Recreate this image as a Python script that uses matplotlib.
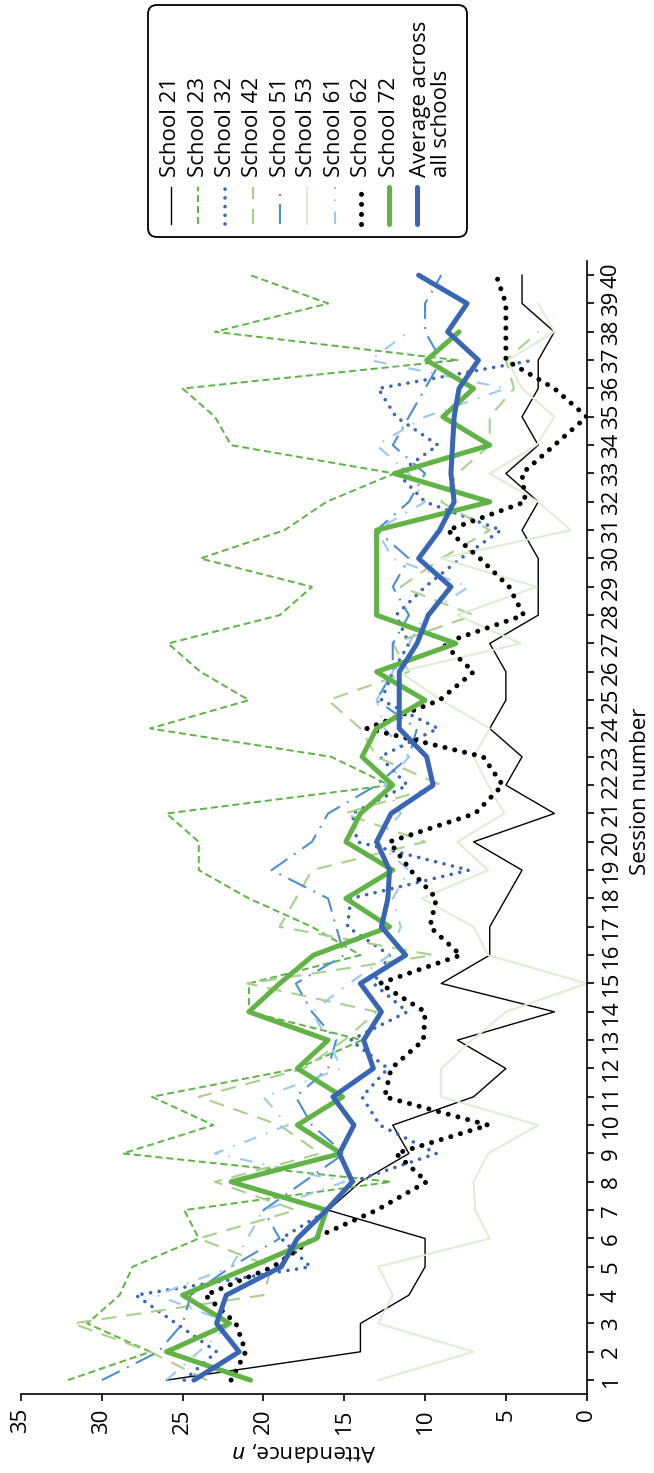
import numpy as np
import matplotlib
matplotlib.use("Agg")
import matplotlib.pyplot as plt
from matplotlib.patches import FancyBboxPatch
from matplotlib.lines import Line2D

plt.rcParams['font.family'] = ['Open Sans', 'DejaVu Sans']
plt.rcParams['mathtext.fontset'] = 'custom'
plt.rcParams['mathtext.it'] = 'Open Sans:italic'
plt.rcParams['mathtext.rm'] = 'Open Sans'

# data: attendance per session
sessions = list(range(1, 41))
school21 = [26,14,14,11,10,10,16,14,11,12,7,5,8,2,9,6,6,5,4,7,2,5,4,6,5,5,6,3,3,3,4,3,5,3,4,3,3,2,4,4]
school23 = [32.1,27,30.9,28.9,28.1,24,24.9,12.1,28.7,23.1,26.9,17.9,13.9,20.9,20.9,14,17,20.9,24,24,
            26,12.2,15.8,27,20.9,23.9,25.9,19,17,23.9,18.7,16.1,11.9,22,23,25,8,23,16,20.8]
school32 = [24.9,22.9,25.4,27.9,17.1,18.9,16,14.5,9.3,12.8,13.9,12.3,14.6,11.1,13.2,12.2,14.8,14.6,7.3,14.2,
            14.5,11.1,12.8,9.2,12.7,12,11,11.8,10,7.8,5.3,10,11.7,9.2,11.8,12.9,3.3]
school42 = [23.5,27,31.8,20,19.5,24,18,23,16.5,19,24,17.5,15,13,21,9.5,19,18,17,10,
            15,9,13,14,16,11,12,7,11.5,9,6,9,8,6,6,4.5,5,3]
school51 = [30,26.5,25,24.5,22,19,20,17.5,15,17,18,16,15.5,17,18,15,15.5,16,19.5,17,
            16,13,11,10.5,13,12,12,11,12,11,13,11,10,12,11,10,9,10,10,9]
school53 = [12.9,7,12.9,12,12.9,6,6.9,7,6.1,3,9,9,7.1,5,0,6.1,7,10.2,6.1,8,
            5.1,6.1,7,6,9,11.6,4.1,8,3.1,9,1,3,6,3.1,2,4,4.9,2,3]
school61 = [26,24,22,26.6,22,21,20,15,23,18.5,20,15.2,16,17,14.7,12.2,11.5,12,11,13,
            11.5,12.5,11,12.5,13,12,11,10,7.3,12,13,10,11,13,10,5,13.4,11]
school62 = [22,21.1,21.7,23.6,19.4,16.9,13,9.9,11.8,6.1,12.5,12.1,10.1,10,12.8,7.8,9.7,9.3,10.9,12.2,
            6.9,5.2,6.4,13.6,9.1,7,8.9,3.9,4.8,6.6,8.6,3.8,4,2,0,2,5,5,5,5.6]
school72 = [20.8,26,22.1,25,20.8,16.7,16.1,22,15.2,17.9,15.1,17.9,16,20.9,19,16.9,12.2,14.9,12,14.9,
            14,12,13.9,13,10,13,8.1,13,13,13,13,6,11.9,6,8.9,7,9.9,7.9]
average = [24.3,21.5,22.9,22.3,18.9,17.9,16.1,14.5,15.3,14.4,15.7,13.2,13.8,12.7,14.0,11.2,12.7,12.3,12.2,13.0,
           12.1,9.5,9.9,11.6,11.6,11.6,10.5,9.8,8.4,10.4,9.1,8.2,8.4,8.3,8.2,7.9,6.7,8.6,7.4,10.4]

labels = ['School 21','School 23','School 32','School 42','School 51','School 53',
          'School 61','School 62','School 72','Average across\nall schools']
series = [school21, school23, school32, school42, school51, school53, school61, school62, school72, average]
styles = [
    dict(color='black', lw=1.0, ls='-'),
    dict(color='#5cb443', lw=1.4, ls=(0, (3.6, 2.0))),
    dict(color='#3a66b8', lw=2.6, ls=(0, (0.01, 2.4)), dash_capstyle='round'),
    dict(color='#a8d08d', lw=1.5, ls=(0, (7.2, 4.8))),
    dict(color='#4b8fd2', lw=1.5, ls=(0, (9.6, 3.9, 0.9, 3.9))),
    dict(color='#dbeed1', lw=1.4, ls='-'),
    dict(color='#9bc9ef', lw=1.5, ls=(0, (6, 5, 0.8, 5))),
    dict(color='black', lw=3.6, ls=(0, (0.01, 2.0)), dash_capstyle='round'),
    dict(color='#62b346', lw=3.6, ls='-', solid_capstyle='round'),
    dict(color='#3865b4', lw=3.6, ls='-', solid_capstyle='round'),
]

W, H = 654, 1473
fig = plt.figure(figsize=(W/100, H/100), dpi=100)
ax = fig.add_axes([21/W, 1-1394.3/H, (586.7-21)/W, (1394.3-261)/H])

for vals, st in zip(series, styles):
    ax.plot(vals, sessions[:len(vals)], **st)

ax.set_xlim(35, 0)
ax.set_ylim(0.5, 40.5)
ax.set_xticks(range(0, 36, 5))
ax.set_yticks(sessions)
ax.yaxis.tick_right()
for s in ['left', 'top']:
    ax.spines[s].set_visible(False)
for s in ['right', 'bottom']:
    ax.spines[s].set_linewidth(1.2)
ax.tick_params(axis='both', direction='out', length=5, width=1.2, labelsize=16, labelrotation=90)
ax.tick_params(axis='x', pad=5)
ax.tick_params(axis='y', pad=5)
for t in ax.get_yticklabels():
    t.set_va('center')

# overlay axes in pixel units for labels and the rotated legend
lax = fig.add_axes([0, 0, 1, 1])
lax.set_xlim(0, W)
lax.set_ylim(H, 0)
lax.axis('off')

lax.text(641, 791, 'Session number', rotation=90, ha='center', va='center', fontsize=16)
lax.text(304, 1452, 'Attendance, $n$', rotation=180, ha='center', va='center', fontsize=16)

lax.add_patch(FancyBboxPatch((148, 5), 319, 232, boxstyle='round,pad=0,rounding_size=9',
                             fc='white', ec='black', lw=1.3))
col_x = [170.7, 198, 225.3, 252.7, 280, 306.7, 334.7, 361.3, 389.3, 416.7]
for i, (lab, st) in enumerate(zip(labels, styles)):
    x = col_x[i]
    lax.add_line(Line2D([x, x], [224, 187], **st))
    tx = x if i < 9 else 431
    lax.text(tx, 177, lab, rotation=90, ha='center', va='bottom', fontsize=16,
             multialignment='left', linespacing=1.05)

fig.savefig('out.png', dpi=100)
